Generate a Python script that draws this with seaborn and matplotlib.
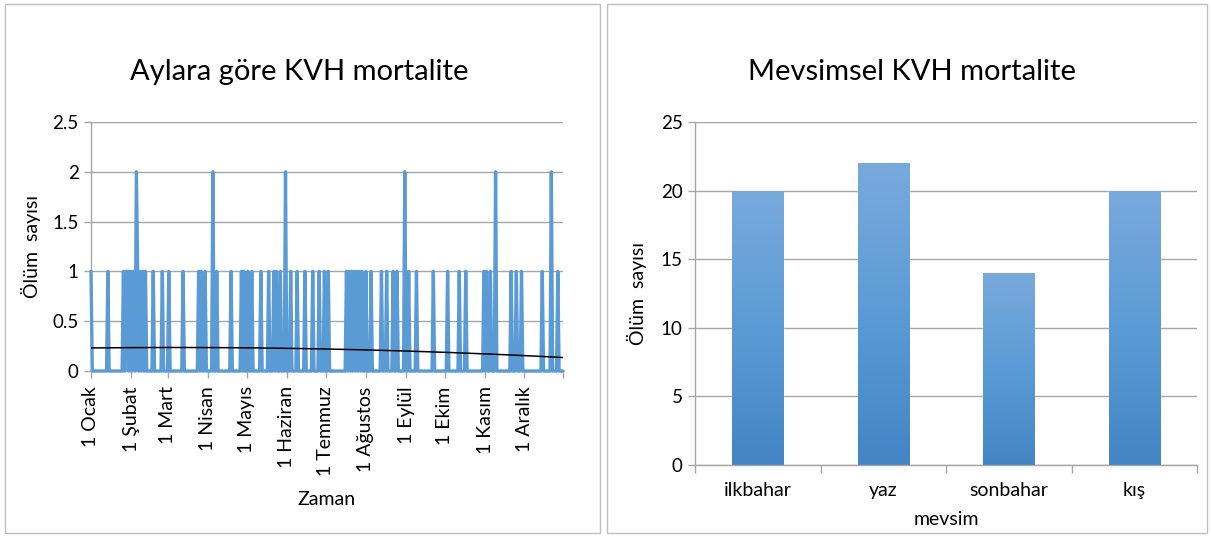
import numpy as np
import pandas as pd
import matplotlib
matplotlib.use("Agg")
import matplotlib.pyplot as plt
import seaborn as sns
from matplotlib.colors import LinearSegmentedColormap
from matplotlib.patches import Rectangle

# Daily cardiovascular deaths over one year (day index 0 = 1 Ocak).
# Days with one death and days with two deaths; every other day is zero.
days_one = [0, 13, 25, 27, 28, 30, 32, 33, 36, 38, 40, 42, 48, 55,
            60, 71, 83, 85, 88, 97, 108, 116, 118, 121, 124, 131, 137, 141, 143, 146,
            154, 159, 165, 171, 176, 180, 183, 197, 199, 201, 203, 205, 207, 209,
            212, 216, 224, 228, 233, 236,
            245, 251, 264, 275, 284, 289, 303, 305, 308, 324, 328, 332,
            348, 360]
days_two = [35, 94, 150, 242, 312, 355]
n_days = 365

month_starts = [0, 31, 59, 90, 120, 151, 181, 212, 243, 273, 304, 334]
month_labels = ["1 Ocak", "1 Şubat", "1 Mart", "1 Nisan", "1 Mayıs", "1 Haziran",
                "1 Temmuz", "1 Ağustos", "1 Eylül", "1 Ekim", "1 Kasım", "1 Aralık"]

# Seasonal totals
seasons = ["ilkbahar", "yaz", "sonbahar", "kış"]
season_deaths = [20, 22, 14, 20]

BLUE = "#5B9BD5"
GRID = "#A6A6A6"
TEXT = "#000000"

sns.set_theme(style="white")
plt.rcParams["font.family"] = ["Lato", "DejaVu Sans"]

W, H = 1211, 537
fig = plt.figure(figsize=(W / 100, H / 100), dpi=100)
fig.patch.set_facecolor("white")


def box(x0, y0, x1, y1):
    """Figure-fraction rectangle from pixel corners (top-left origin)."""
    return [x0 / W, 1 - y1 / H, (x1 - x0) / W, (y1 - y0) / H]


# Panel frames
for x0, x1 in [(5, 600), (607, 1207)]:
    fig.patches.append(Rectangle((x0 / W, 4 / H), (x1 - x0) / W, (533 - 4) / H,
                                 transform=fig.transFigure, fill=False,
                                 edgecolor="#BFBFBF", lw=1.0))

# ---------------- left: daily series ----------------
series = np.zeros(n_days)
series[days_one] = 1
series[days_two] = 2
day_idx = np.arange(n_days)
df = pd.DataFrame({"gun": day_idx, "olum": series})

# polynomial (order 2) trend of the daily counts
coef = np.polyfit(day_idx, series, 2)
trend = np.polyval(coef, day_idx)

ax1 = fig.add_axes(box(91, 122, 563, 371))
sns.lineplot(data=df, x="gun", y="olum", ax=ax1, color=BLUE, lw=2.4,
             solid_joinstyle="round", clip_on=False, zorder=3)
sns.lineplot(x=day_idx, y=trend, ax=ax1, color="black", lw=1.1, zorder=4)
ax1.set_xlim(0, n_days - 1)
ax1.set_ylim(0, 2.5)
ax1.set_yticks([0, 0.5, 1, 1.5, 2, 2.5], ["0", "0.5", "1", "1.5", "2", "2.5"])
ax1.set_xticks(month_starts + [n_days - 1], month_labels + [""], rotation=90)
ax1.grid(axis="y", color=GRID, lw=1.0)
ax1.set_axisbelow(True)
for s in ["top", "right"]:
    ax1.spines[s].set_visible(False)
for s in ["left", "bottom"]:
    ax1.spines[s].set_color(GRID)
    ax1.spines[s].set_linewidth(1.0)
ax1.tick_params(axis="x", length=5, width=1, color=GRID, direction="out",
                labelsize=14, pad=6, labelcolor=TEXT, bottom=True)
ax1.tick_params(axis="y", length=5, width=1, color=GRID, direction="out",
                labelsize=13.5, pad=4, labelcolor=TEXT, left=True)
ax1.set_xlabel("Zaman", fontsize=14, labelpad=11, color=TEXT)
ax1.set_ylabel("Ölüm  sayısı", fontsize=14, labelpad=8, color=TEXT)
fig.text(299 / W, 1 - 72 / H, "Aylara göre KVH mortalite", ha="center", va="center",
         fontsize=21, color=TEXT)

# ---------------- right: seasonal bars ----------------
ax2 = fig.add_axes(box(695, 122, 1197, 465))
sns.barplot(x=seasons, y=season_deaths, ax=ax2, color=BLUE, width=0.41,
            saturation=1, zorder=2)
grad_cmap = LinearSegmentedColormap.from_list("bar_grad", ["#4385C5", "#5B9BD5", "#78AADD"])
grad = np.linspace(0, 1, 256).reshape(-1, 1)
for p in list(ax2.patches):
    x0, y0, w, h = p.get_x(), p.get_y(), p.get_width(), p.get_height()
    im = ax2.imshow(grad, extent=[x0, x0 + w, y0, y0 + h], origin="lower",
                    cmap=grad_cmap, aspect="auto", zorder=2.5)
    im.set_clip_path(p)
ax2.set_xlim(-0.5, 3.5)
ax2.set_ylim(0, 25)
ax2.set_aspect("auto")
ax2.set_yticks([0, 5, 10, 15, 20, 25])
ax2.set_xticks([-0.5, 0.5, 1.5, 2.5, 3.5], [""] * 5)
ax2.set_xticks([0, 1, 2, 3], seasons, minor=True)
ax2.grid(axis="y", color=GRID, lw=1.0)
ax2.set_axisbelow(True)
for s in ["top", "right"]:
    ax2.spines[s].set_visible(False)
for s in ["left", "bottom"]:
    ax2.spines[s].set_color(GRID)
    ax2.spines[s].set_linewidth(1.0)
ax2.tick_params(axis="x", which="major", length=6, width=1, color=GRID,
                direction="out", bottom=True)
ax2.tick_params(axis="x", which="minor", length=0, labelsize=14, pad=12,
                labelcolor=TEXT, bottom=True)
ax2.tick_params(axis="y", length=5, width=1, color=GRID, direction="out",
                labelsize=13.5, pad=4, labelcolor=TEXT, left=True)
ax2.set_xlabel("mevsim", fontsize=14, labelpad=9, color=TEXT)
ax2.set_ylabel("Ölüm  sayısı", fontsize=14, labelpad=10, color=TEXT)
fig.text(912 / W, 1 - 72 / H, "Mevsimsel KVH mortalite", ha="center", va="center",
         fontsize=21, color=TEXT)

fig.savefig("out.png", dpi=100, facecolor="white")
